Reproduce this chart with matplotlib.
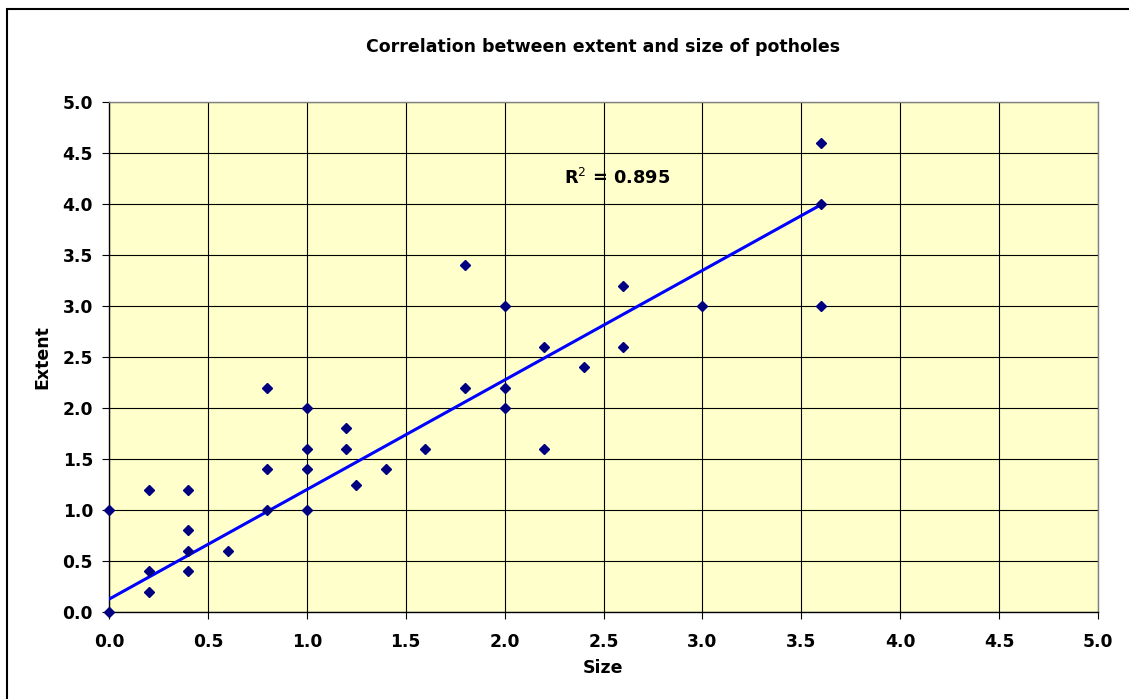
import numpy as np
import matplotlib
matplotlib.use("Agg")
import matplotlib.pyplot as plt
from matplotlib.patches import Rectangle

# Pothole survey: size vs extent; count = number of readings at each point
size = [0.0, 0.0, 0.2, 0.2, 0.2, 0.4, 0.4, 0.4, 0.4, 0.6, 0.8, 0.8, 0.8,
        1.0, 1.0, 1.0, 1.0, 1.2, 1.2, 1.25, 1.4, 1.6, 1.8, 1.8, 2.0, 2.0,
        2.0, 2.2, 2.2, 2.4, 2.6, 2.6, 3.0, 3.6, 3.6, 3.6]
extent = [0.0, 1.0, 0.2, 0.4, 1.2, 0.4, 0.6, 0.8, 1.2, 0.6, 1.0, 1.4, 2.2,
          1.0, 1.4, 1.6, 2.0, 1.6, 1.8, 1.25, 1.4, 1.6, 2.2, 3.4, 2.0, 2.2,
          3.0, 1.6, 2.6, 2.4, 2.6, 3.2, 3.0, 3.0, 4.0, 4.6]
count = [37, 1, 1, 1, 1, 1, 1, 1, 1, 1, 1, 1, 1,
         1, 1, 1, 1, 1, 1, 1, 1, 1, 1, 1, 1, 1,
         1, 1, 1, 1, 1, 1, 2, 1, 1, 1]
r2_label = "R$^2$ = 0.895"
ticks = [0.0, 0.5, 1.0, 1.5, 2.0, 2.5, 3.0, 3.5, 4.0, 4.5, 5.0]

W, H = 1129, 699
fig = plt.figure(figsize=(W / 100, H / 100), dpi=100)
fig.patch.set_facecolor("white")

# chart border
fig.patches.append(Rectangle((7 / W, -0.05), 1.2, (H - 9) / H + 0.05,
                             transform=fig.transFigure, fill=False,
                             edgecolor="black", linewidth=1.5))

ax = fig.add_axes([109 / W, (H - 612) / H, (1098 - 109) / W, (612 - 102) / H])
ax.set_facecolor("#FFFFCC")
ax.set_xlim(0, 5)
ax.set_ylim(0, 5)
ax.set_xticks(ticks)
ax.set_yticks(ticks)
ax.set_xticklabels([f"{t:.1f}" for t in ticks])
ax.set_yticklabels([f"{t:.1f}" for t in ticks])
ax.grid(True, color="black", linewidth=0.8)
ax.set_axisbelow(True)
for sp in ax.spines.values():
    sp.set_color("#808080")
    sp.set_linewidth(1.0)
ax.spines["left"].set_color("black")
ax.spines["bottom"].set_color("black")
ax.tick_params(direction="out", length=5, width=0.8, colors="black",
               labelsize=12.3)
ax.tick_params(axis="y", pad=6.5)
ax.tick_params(axis="x", pad=10)
for lab in ax.get_xticklabels() + ax.get_yticklabels():
    lab.set_fontweight("bold")

# linear trend line over the data range
x = np.repeat(size, count)
y = np.repeat(extent, count)
slope, intercept = np.polyfit(x, y, 1)
xs = np.array([min(size), max(size)])
ax.plot(xs, slope * xs + intercept, color="#0000FF", linewidth=2.2, zorder=3)

ax.plot(size, extent, linestyle="none", marker="D", markersize=4.6,
        color="#000080", zorder=4, clip_on=False)

ax.text(2.3, 4.2, r2_label, fontsize=12.8, fontweight="bold", color="black")

ax.set_xlabel("Size", fontsize=12.5, fontweight="bold", labelpad=6)
ax.set_ylabel("Extent", fontsize=12.5, fontweight="bold", labelpad=8)
fig.text((109 + 1098) / 2 / W, 1 - 47 / H,
         "Correlation between extent and size of potholes",
         ha="center", va="center", fontsize=12.5, fontweight="bold")

fig.savefig("out.png", dpi=100)
